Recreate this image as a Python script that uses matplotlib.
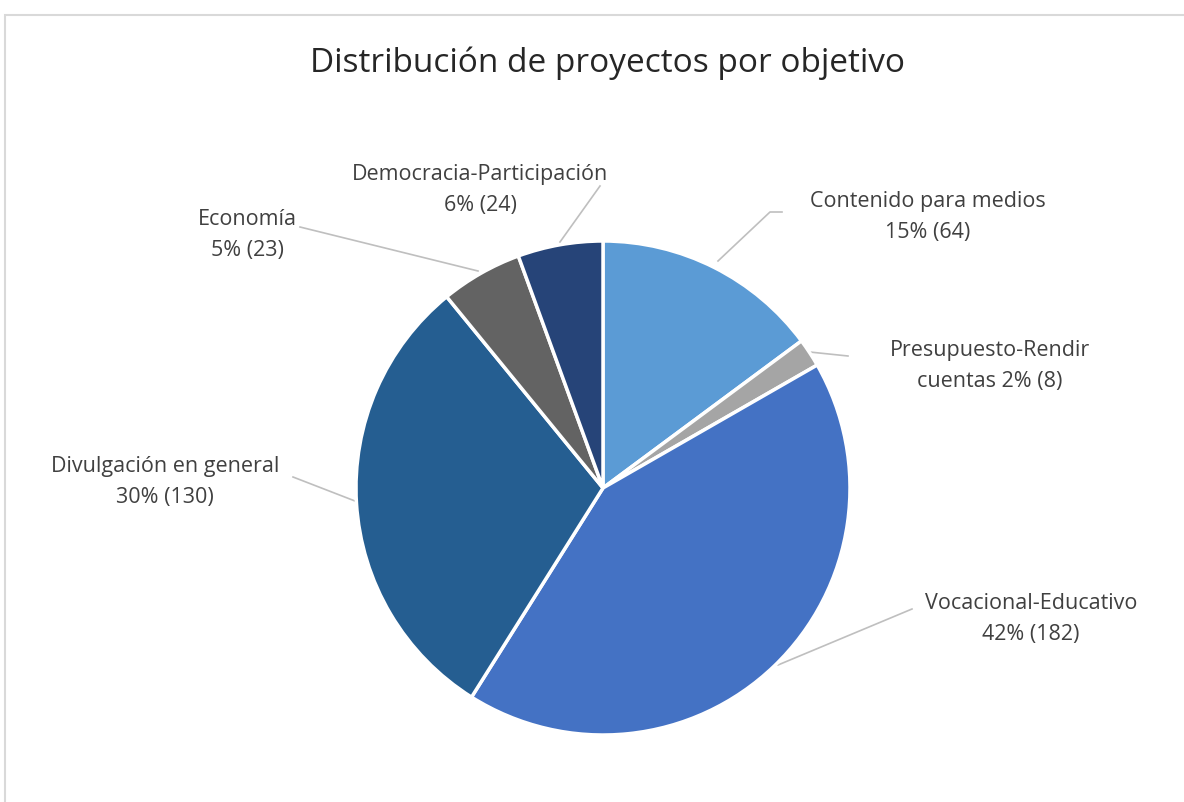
import matplotlib.pyplot as plt
from matplotlib.patches import Rectangle

categories = [
    "Contenido para medios",
    "Presupuesto-Rendir\ncuentas",
    "Vocacional-Educativo",
    "Divulgación en general",
    "Economía",
    "Democracia-Participación",
]
counts = [64, 8, 182, 130, 23, 24]
percents = [15, 2, 42, 30, 5, 6]

colors = ["#5B9BD5", "#A5A5A5", "#4472C4", "#255E91", "#636363", "#264478"]

W, H = 1184, 803
CX, CY, R = 603, 489, 247


def to_data(px, py):
    return (px - CX) / R, (CY - py) / R


# label text centre and leader polyline (pixel coords of the reference)
layout = [
    dict(text=(928, 217), line=[(718, 262), (770, 213), (782, 213)]),
    dict(text=(990, 366), line=[(800, 352), (848, 357)]),
    dict(text=(1031, 619), line=[(778, 666), (912, 610)]),
    dict(text=(165, 482), line=[(355, 502), (293, 478)]),
    dict(text=(247, 235), line=[(478, 272), (300, 228)]),
    dict(text=(480, 190), line=[(560, 243), (600, 187)]),
]

fig = plt.figure(figsize=(W / 100, H / 100), dpi=100)
fig.patches.append(
    Rectangle((5 / W, -0.1), 1.2, 1 - 16 / H + 0.1, transform=fig.transFigure,
              fill=False, edgecolor="#D9D9D9", linewidth=1.5)
)

ax = fig.add_axes([(CX - R) / W, (H - CY - R) / H, 2 * R / W, 2 * R / H])
ax.pie(
    counts,
    colors=colors,
    startangle=90,
    counterclock=False,
    radius=1,
    wedgeprops=dict(edgecolor="white", linewidth=2.5),
)
ax.set_xlim(-1, 1)
ax.set_ylim(-1, 1)
ax.set_aspect("equal")
ax.axis("off")

for cat, n, p, lay in zip(categories, counts, percents, layout):
    if "\n" in cat:
        label = f"{cat} {p}% ({n})"
    else:
        label = f"{cat}\n{p}% ({n})"
    tx, ty = to_data(*lay["text"])
    ax.text(tx, ty, label, ha="center", va="center", fontsize=15.5,
            family="Open Sans", color="#404040", linespacing=1.6, clip_on=False)
    pts = [to_data(x, y) for x, y in lay["line"]]
    ax.plot([q[0] for q in pts], [q[1] for q in pts], color="#BFBFBF",
            linewidth=1.2, clip_on=False, zorder=0)

fig.text(607 / W, 1 - 63 / H, "Distribución de proyectos por objetivo",
         ha="center", va="center", fontsize=24, family="Open Sans", color="#262626")

fig.savefig("out.png", dpi=100)
